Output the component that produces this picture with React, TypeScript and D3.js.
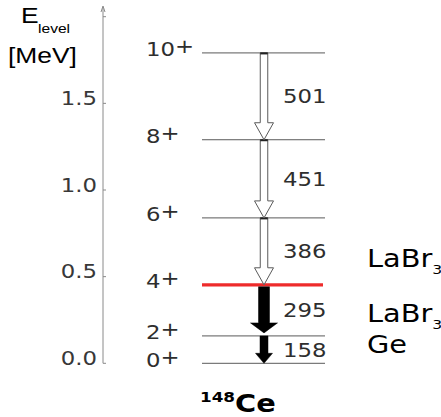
import React from "react";
import * as d3 from "d3";

// Level scheme of 148Ce: yrast levels and the gamma cascade between them
const levelSpins = ["0+", "2+", "4+", "6+", "8+", "10+"];
const levelEnergiesKeV = [0, 158, 453, 839, 1290, 1791];
const gammaEnergiesKeV = [158, 295, 386, 451, 501];
const gammaInitialLevel = [1, 2, 3, 4, 5]; // index into levelSpins
const gammaFinalLevel = [0, 1, 2, 3, 4];
const axisTicksMeV = [0, 0.5, 1.0, 1.5, 2.0];
const axisTickLabels = ["0.0", "0.5", "1.0", "1.5", ""];
const detectorLabels = ["LaBr3", "LaBr3", "Ge"];
const nucleusMass = "148";
const nucleusSymbol = "Ce";

const W = 441;
const H = 417;
const SX = 1.2; // horizontal text stretch
const TEXT = "#2e2e2e";
const DEJAVU = "'DejaVu Sans', Verdana, sans-serif";
const ARIAL = "'Liberation Sans', Arial, sans-serif";

// Arrow appearance per transition
const arrowStyle = (e: number) =>
  e === 158
    ? { filled: true, shaft: 8, head: 17, headLen: 10, gapTop: 0, gapBottom: 0 }
    : e === 295
    ? { filled: true, shaft: 11, head: 27, headLen: 10, gapTop: 2, gapBottom: 3 }
    : { filled: false, shaft: 7.5, head: 19, headLen: 17, gapTop: 0, gapBottom: 0 };

// Which level is drawn highlighted (the 4+ state)
const highlightSpin = "4+";

// Detector label placement: y offset from the midpoint of a transition
const detectorLayout = [
  { gammaIdx: 2, dy: 16 },
  { gammaIdx: 1, dy: 11.5 },
  { gammaIdx: 0, dy: 3.5 },
];

export default function App() {
  const y = d3.scaleLinear().domain([0, 2.0]).range([363.3, 16.7]);
  const axisX = 103;
  const levelX0 = 202;
  const levelX1 = 325;
  const arrowX = 264;

  const yOf = (keV: number) => y(keV / 1000);

  const arrowPath = (yTop: number, yTip: number, s: ReturnType<typeof arrowStyle>) => {
    const hs = s.shaft / 2;
    const hh = s.head / 2;
    const yh = yTip - s.headLen;
    return d3.line()([
      [arrowX - hs, yTop],
      [arrowX + hs, yTop],
      [arrowX + hs, yh],
      [arrowX + hh, yh],
      [arrowX, yTip],
      [arrowX - hh, yh],
      [arrowX - hs, yh],
    ]) + "Z";
  };

  const splitSub = (s: string) => {
    const m = s.match(/^(.*?)(\d+)$/);
    return m ? [m[1], m[2]] : [s, ""];
  };

  return (
    <svg
      width={W}
      height={H}
      style={{ position: "absolute", left: 0, top: 0, background: "#fff" }}
    >
      {/* energy axis */}
      <line x1={axisX} x2={axisX} y1={8} y2={y(0)} stroke="#8a8a8a" strokeWidth={1} />
      <path d={`M${axisX - 2},${12} L${axisX},${6} L${axisX + 2},${12}`} fill="none" stroke="#8a8a8a" strokeWidth={1} />
      {axisTicksMeV.map((t, i) => (
        <g key={"t" + i}>
          <line x1={axisX} x2={axisX + 3} y1={y(t)} y2={y(t)} stroke="#8a8a8a" strokeWidth={1} />
          {axisTickLabels[i] && (
            <text
              transform={`translate(${axisX - 6},${y(t) + 1.5}) scale(${SX},1)`}
              textAnchor="end"
              fontFamily={DEJAVU}
              fontSize={19}
              fill="#383838"
            >
              {axisTickLabels[i]}
            </text>
          )}
        </g>
      ))}

      {/* axis title */}
      <text transform={`translate(21,23) scale(${SX},1)`} fontFamily={ARIAL} fontSize={22} fill="#000">
        E
      </text>
      <text transform={`translate(38,33) scale(${SX},1)`} fontFamily={ARIAL} fontSize={13} fill="#000">
        level
      </text>
      <text transform={`translate(8,63) scale(${SX},1)`} fontFamily={ARIAL} fontSize={22} fill="#000">
        [MeV]
      </text>

      {/* levels */}
      {levelSpins.map((spin, i) => {
        const ly = yOf(levelEnergiesKeV[i]);
        const hl = spin === highlightSpin;
        return (
          <g key={"l" + i}>
            <line
              x1={levelX0}
              x2={hl ? levelX1 - 2 : levelX1}
              y1={ly}
              y2={ly}
              stroke={hl ? "#ee2b2b" : "#5a5a5a"}
              strokeWidth={hl ? 3.2 : 1}
            />
            <text
              transform={`translate(146,${ly + 3.5}) scale(${SX},1)`}
              fontFamily={DEJAVU}
              fontSize={19}
              fill={TEXT}
            >
              {spin.replace("+", "")}
              <tspan dy={-3.3}>+</tspan>
            </text>
          </g>
        );
      })}

      {/* gamma transitions */}
      {gammaEnergiesKeV.map((e, i) => {
        const s = arrowStyle(e);
        const yA = yOf(levelEnergiesKeV[gammaInitialLevel[i]]);
        const yB = yOf(levelEnergiesKeV[gammaFinalLevel[i]]);
        const yTop = yA + s.gapTop;
        const yTip = yB - s.gapBottom;
        const mid = (yA + yB) / 2;
        return (
          <g key={"g" + i}>
            <path
              d={arrowPath(yTop, yTip, s)}
              fill={s.filled ? "#000" : "#fff"}
              stroke={s.filled ? "#000" : "#5a5a5a"}
              strokeWidth={s.filled ? 0.5 : 1}
              strokeLinejoin="miter"
            />
            {!s.filled && (
              <line x1={arrowX - s.shaft / 2} x2={arrowX + s.shaft / 2} y1={yTop + 0.5} y2={yTop + 0.5} stroke="#222" strokeWidth={2} />
            )}
            <text
              transform={`translate(283,${mid + 7}) scale(${SX},1)`}
              fontFamily={DEJAVU}
              fontSize={19}
              fill={TEXT}
            >
              {e}
            </text>
          </g>
        );
      })}

      {/* detector labels */}
      {detectorLabels.map((d, i) => {
        const L = detectorLayout[i];
        const g = L.gammaIdx;
        const mid =
          (yOf(levelEnergiesKeV[gammaInitialLevel[g]]) + yOf(levelEnergiesKeV[gammaFinalLevel[g]])) / 2;
        const [main, sub] = splitSub(d);
        return (
          <text
            key={"d" + i}
            transform={`translate(367,${mid + L.dy}) scale(${SX},1)`}
            fontFamily={DEJAVU}
            fontSize={24}
            fill="#000"
          >
            {main}
            {sub && (
              <tspan fontSize={13} dy={7}>
                {sub}
              </tspan>
            )}
          </text>
        );
      })}

      {/* nucleus label */}
      <text transform={`translate(200,412) scale(${SX},1)`} fontFamily={DEJAVU} fontWeight="bold" fill="#000">
        <tspan fontSize={14} dy={-10}>
          {nucleusMass}
        </tspan>
        <tspan fontSize={24} dy={10}>
          {nucleusSymbol}
        </tspan>
      </text>
    </svg>
  );
}
